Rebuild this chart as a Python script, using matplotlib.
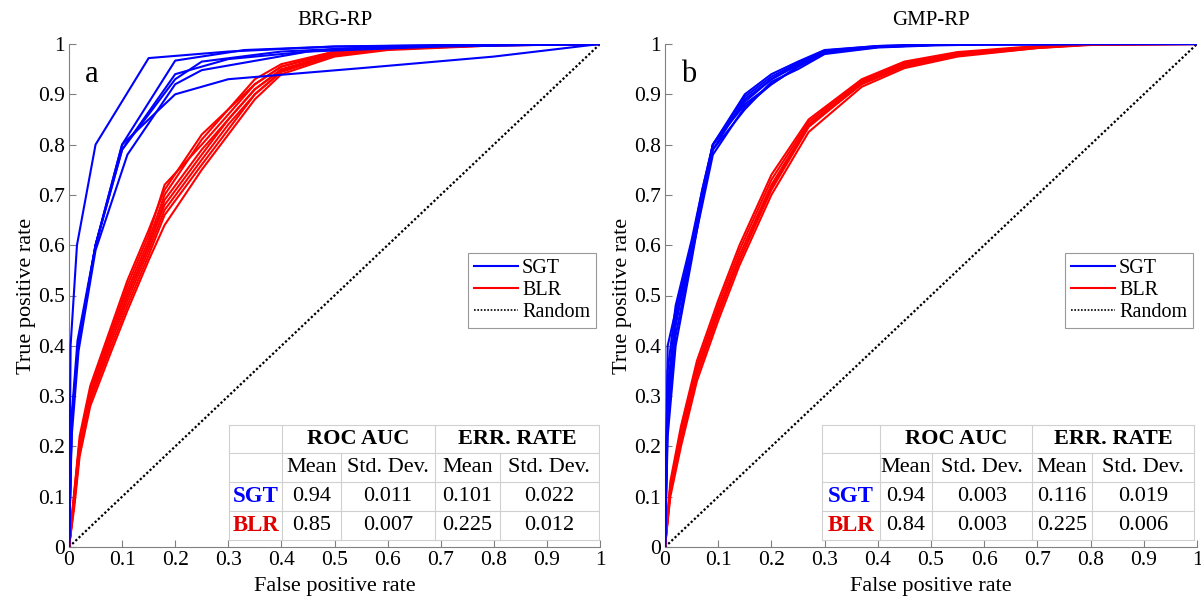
import matplotlib
matplotlib.use("Agg")
import matplotlib.pyplot as plt
from matplotlib.lines import Line2D
from matplotlib.ticker import FormatStrFormatter

plt.rcParams['font.family'] = ['Liberation Serif', 'DejaVu Serif']

# ---- panel a (BRG-RP) ----
a_sgt_fpr = [
    [0, 0.003, 0.015, 0.05, 0.15, 0.3, 0.5, 0.7, 1.0],
    [0, 0.005, 0.017, 0.05, 0.1, 0.2, 0.33, 0.5, 1.0],
    [0, 0.005, 0.017, 0.05, 0.1, 0.2, 0.25, 0.4, 0.6, 1.0],
    [0, 0.005, 0.018, 0.05, 0.11, 0.2, 0.25, 0.45, 0.7, 1.0],
    [0, 0.005, 0.016, 0.05, 0.1, 0.2, 0.3, 0.5, 0.7, 1.0],
    [0, 0.005, 0.017, 0.05, 0.1, 0.2, 0.3, 0.55, 0.8, 1.0],
]
a_sgt_tpr = [
    [0, 0.4, 0.6, 0.8, 0.972, 0.985, 0.995, 0.998, 1.0],
    [0, 0.25, 0.40, 0.6, 0.80, 0.967, 0.988, 0.995, 1.0],
    [0, 0.24, 0.40, 0.6, 0.79, 0.93, 0.965, 0.985, 0.995, 1.0],
    [0, 0.22, 0.39, 0.59, 0.78, 0.92, 0.948, 0.985, 0.995, 1.0],
    [0, 0.26, 0.41, 0.6, 0.79, 0.94, 0.97, 0.99, 0.996, 1.0],
    [0, 0.25, 0.40, 0.6, 0.80, 0.90, 0.93, 0.952, 0.975, 1.0],
]
a_blr_fpr = [0, 0.01, 0.02, 0.04, 0.08, 0.11, 0.15, 0.18, 0.25, 0.3, 0.35, 0.4, 0.5, 0.6, 0.8, 1.0]
a_blr_tpr = [
    [0, 0.11, 0.21, 0.31, 0.43, 0.52, 0.62, 0.72, 0.80, 0.86, 0.92, 0.955, 0.982, 0.992, 0.998, 1.0],
    [0, 0.10, 0.20, 0.30, 0.42, 0.50, 0.60, 0.68, 0.78, 0.85, 0.91, 0.950, 0.980, 0.990, 0.998, 1.0],
    [0, 0.09, 0.19, 0.29, 0.40, 0.48, 0.58, 0.66, 0.76, 0.83, 0.90, 0.945, 0.978, 0.990, 0.997, 1.0],
    [0, 0.10, 0.21, 0.31, 0.43, 0.51, 0.61, 0.70, 0.81, 0.87, 0.92, 0.955, 0.985, 0.993, 0.998, 1.0],
    [0, 0.08, 0.18, 0.28, 0.39, 0.47, 0.57, 0.64, 0.75, 0.82, 0.89, 0.940, 0.975, 0.988, 0.997, 1.0],
    [0, 0.10, 0.20, 0.30, 0.42, 0.50, 0.60, 0.69, 0.79, 0.85, 0.91, 0.948, 0.980, 0.991, 0.998, 1.0],
    [0, 0.11, 0.22, 0.32, 0.44, 0.53, 0.63, 0.71, 0.82, 0.87, 0.93, 0.960, 0.985, 0.994, 0.999, 1.0],
    [0, 0.09, 0.19, 0.29, 0.41, 0.49, 0.59, 0.67, 0.77, 0.84, 0.90, 0.945, 0.978, 0.990, 0.998, 1.0],
]

# ---- panel b (GMP-RP) ----
b_sgt_fpr = [0, 0.005, 0.02, 0.05, 0.07, 0.09, 0.15, 0.2, 0.25, 0.3, 0.4, 0.5, 0.6, 0.8, 1.0]
b_sgt_tpr = [
    [0, 0.30, 0.46, 0.60, 0.70, 0.80, 0.90, 0.94, 0.965, 0.988, 0.996, 0.999, 1.0, 1.0, 1.0],
    [0, 0.25, 0.42, 0.58, 0.69, 0.79, 0.89, 0.93, 0.960, 0.985, 0.995, 0.998, 0.999, 1.0, 1.0],
    [0, 0.35, 0.48, 0.61, 0.71, 0.80, 0.88, 0.92, 0.955, 0.983, 0.994, 0.998, 0.999, 1.0, 1.0],
    [0, 0.40, 0.47, 0.59, 0.70, 0.79, 0.87, 0.925, 0.950, 0.980, 0.993, 0.997, 0.999, 1.0, 1.0],
    [0, 0.28, 0.44, 0.60, 0.71, 0.80, 0.895, 0.935, 0.962, 0.987, 0.996, 0.999, 1.0, 1.0, 1.0],
    [0, 0.32, 0.45, 0.58, 0.68, 0.78, 0.875, 0.92, 0.955, 0.982, 0.994, 0.998, 0.999, 1.0, 1.0],
    [0, 0.22, 0.40, 0.57, 0.69, 0.80, 0.885, 0.93, 0.958, 0.985, 0.995, 0.998, 1.0, 1.0, 1.0],
]
b_blr_fpr = [0, 0.01, 0.03, 0.06, 0.1, 0.14, 0.2, 0.27, 0.37, 0.45, 0.55, 0.7, 0.8, 1.0]
b_blr_tpr = [
    [0, 0.12, 0.23, 0.36, 0.48, 0.59, 0.73, 0.845, 0.928, 0.962, 0.982, 0.995, 1.0, 1.0],
    [0, 0.11, 0.21, 0.34, 0.46, 0.57, 0.71, 0.835, 0.922, 0.958, 0.978, 0.993, 0.999, 1.0],
    [0, 0.13, 0.24, 0.37, 0.49, 0.60, 0.74, 0.850, 0.930, 0.965, 0.984, 0.996, 1.0, 1.0],
    [0, 0.10, 0.20, 0.33, 0.45, 0.56, 0.70, 0.825, 0.915, 0.952, 0.975, 0.992, 0.998, 1.0],
    [0, 0.12, 0.22, 0.35, 0.47, 0.58, 0.72, 0.840, 0.925, 0.960, 0.980, 0.994, 0.999, 1.0],
    [0, 0.11, 0.22, 0.35, 0.47, 0.57, 0.715, 0.838, 0.920, 0.955, 0.977, 0.992, 0.999, 1.0],
]

titles = ["BRG-RP", "GMP-RP"]
panel_letters = ["a", "b"]
col_head = ["ROC AUC", "ERR. RATE"]
sub_head = ["Mean", "Std. Dev.", "Mean", "Std. Dev."]
row_names = ["SGT", "BLR"]
a_table = [["0.94", "0.011", "0.101", "0.022"], ["0.85", "0.007", "0.225", "0.012"]]
b_table = [["0.94", "0.003", "0.116", "0.019"], ["0.84", "0.003", "0.225", "0.006"]]

BLUE = "#0000ff"
RED = "#ff0000"
GRID = "#d0d0d0"

fig = plt.figure(figsize=(12.01, 5.98), dpi=100)
ax_a = fig.add_axes([69 / 1201, 51 / 598, 531 / 1201, 503 / 598])
ax_b = fig.add_axes([665 / 1201, 51 / 598, 532 / 1201, 503 / 598])

panels = [
    (ax_a, a_sgt_fpr, a_sgt_tpr, a_blr_fpr, a_blr_tpr, a_table,
     [0.301, 0.402, 0.513, 0.689, 0.811, 0.998]),
    (ax_b, [b_sgt_fpr] * len(b_sgt_tpr), b_sgt_tpr, b_blr_fpr, b_blr_tpr, b_table,
     [0.295, 0.404, 0.502, 0.690, 0.802, 0.995]),
]
row_y = [0.2425, 0.1869, 0.1292, 0.0716, 0.0139]

for i, (ax, sfpr, stpr, bfpr, btpr, tab, cx) in enumerate(panels):
    ax.plot([0, 1], [0, 1], linestyle=(0, (1, 1)), color="black", lw=1.6, label="Random", zorder=1)
    for t in btpr:
        ax.plot(bfpr, t, color=RED, lw=1.5, zorder=2)
    for f, t in zip(sfpr, stpr):
        ax.plot(f, t, color=BLUE, lw=1.5, zorder=3)

    ax.set_xlim(0, 1)
    ax.set_ylim(0, 1)
    ax.set_xticks([k / 10 for k in range(11)])
    ax.set_yticks([k / 10 for k in range(11)])
    ax.xaxis.set_major_formatter(FormatStrFormatter('%g'))
    ax.yaxis.set_major_formatter(FormatStrFormatter('%g'))
    ax.tick_params(direction="in", length=5, color="#808080", labelsize=15.5, pad=3)
    for s in ["top", "right"]:
        ax.spines[s].set_visible(False)
    for s in ["left", "bottom"]:
        ax.spines[s].set_color("#808080")
    ax.set_xlabel("False positive rate", fontsize=16, labelpad=5)
    ax.set_ylabel("True positive rate", fontsize=16, labelpad=1)
    ax.set_title(titles[i], fontsize=15, pad=14)
    ax.text(0.03, 0.94, panel_letters[i], transform=ax.transAxes, fontsize=22, va="center")

    handles = [Line2D([], [], color=BLUE, lw=1.5), Line2D([], [], color=RED, lw=1.5),
               Line2D([], [], color="black", lw=1.2, linestyle=(0, (1, 1)))]
    leg = ax.legend(handles, ["SGT", "BLR", "Random"], loc="upper right",
                    bbox_to_anchor=(0.993, 0.585), fontsize=14.5, fancybox=False,
                    edgecolor="#808080", handlelength=2.2, borderpad=0.3,
                    labelspacing=0.15, handletextpad=0.2, borderaxespad=0)
    leg.get_frame().set_linewidth(0.8)

    # table drawn in axes fraction coordinates
    tr = ax.transAxes
    lw = 0.8
    for r in range(5):
        ax.add_line(Line2D([cx[0], cx[5]], [row_y[r]] * 2, transform=tr, color=GRID, lw=lw))
    for c in (0, 1, 3, 5):
        ax.add_line(Line2D([cx[c], cx[c]], [row_y[0], row_y[4]], transform=tr, color=GRID, lw=lw))
    for c in (2, 4):
        ax.add_line(Line2D([cx[c], cx[c]], [row_y[1], row_y[4]], transform=tr, color=GRID, lw=lw))

    for k, h in enumerate(col_head):
        xm = (cx[1 + 2 * k] + cx[3 + 2 * k]) / 2
        ax.text(xm, (row_y[0] + row_y[1]) / 2, h, transform=tr, ha="center", va="center",
                fontsize=16, fontweight="bold")
    for k, h in enumerate(sub_head):
        ax.text((cx[k + 1] + cx[k + 2]) / 2, (row_y[1] + row_y[2]) / 2, h, transform=tr,
                ha="center", va="center", fontsize=16)
    for r, name in enumerate(row_names):
        yc = (row_y[r + 2] + row_y[r + 3]) / 2
        ax.text((cx[0] + cx[1]) / 2, yc, name, transform=tr, ha="center", va="center",
                fontsize=16.5, fontweight="bold", color=[BLUE, "#e00000"][r])
        for k, v in enumerate(tab[r]):
            ax.text((cx[k + 1] + cx[k + 2]) / 2, yc, v, transform=tr, ha="center",
                    va="center", fontsize=16)

fig.savefig("out.png", dpi=100)
